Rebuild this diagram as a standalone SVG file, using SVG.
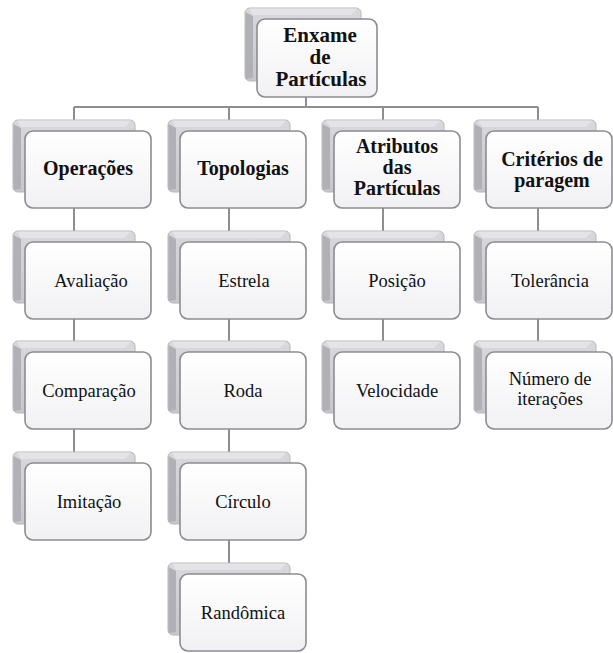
<svg xmlns="http://www.w3.org/2000/svg" xmlns:xlink="http://www.w3.org/1999/xlink" width="613" height="653" viewBox="0 0 613 653">
  <style>
    .lbl { fill: #111; text-anchor: middle; }
    .head { font-size: 20px; font-weight: bold; }
    .root { font-size: 21px; font-weight: bold; }
    .item { font-size: 18.5px; }
    .wire { fill: none; stroke: #8d8d93; stroke-width: 2; }
    .frontbox { fill: url(#gFront); stroke: #8c8c92; stroke-width: 1.6; }
    .backbox { fill: url(#gBack); stroke: #b6b6bc; stroke-width: 1; }
    .faceL { fill: #b0b0b7; }
    .faceT { fill: #e4e4e8; }
  </style>
  <defs>
    <linearGradient id="gFront" x1="0" y1="0" x2="0" y2="1">
      <stop offset="0" stop-color="#ffffff"/>
      <stop offset="1" stop-color="#f1f1f4"/>
    </linearGradient>
    <linearGradient id="gBack" x1="0" y1="0" x2="0" y2="1">
      <stop offset="0" stop-color="#d9d9dd"/>
      <stop offset="1" stop-color="#c6c6cb"/>
    </linearGradient>
    <!-- standard card: 126 x 77 front face, origin at its top-left -->
    <g id="card">
      <rect class="backbox" x="-12" y="-11" width="122" height="72" rx="5"/>
      <polygon class="faceT" points="-8,-10.5 106,-10.5 100,-4 -4,-4"/>
      <polygon class="faceL" points="-11.5,-7 -4,-3 -4,58 -11.5,59"/>
      <rect class="frontbox" x="0" y="0" width="126" height="77" rx="8"/>
    </g>
    <!-- root card: 120 x 78 front face -->
    <g id="cardRoot">
      <rect class="backbox" x="-12" y="-11" width="116" height="73" rx="5"/>
      <polygon class="faceT" points="-8,-10.5 100,-10.5 94,-4 -4,-4"/>
      <polygon class="faceL" points="-11.5,-7 -4,-3 -4,59 -11.5,60"/>
      <rect class="frontbox" x="0" y="0" width="120" height="78" rx="8"/>
    </g>
  </defs>

  <rect width="613" height="653" fill="#ffffff"/>

  <!-- connectors -->
  <g id="connectors">
    <path class="wire" d="M306,97 V107 M74,107 H538"/>
    <path class="wire" d="M74,107 V463"/>
    <path class="wire" d="M229,107 V574"/>
    <path class="wire" d="M383,107 V352"/>
    <path class="wire" d="M538,107 V352"/>
  </g>

  <g font-family="'Liberation Serif', 'Times New Roman', 'DejaVu Serif', serif">
  <!-- root -->
  <g id="n-enxame" transform="translate(257,19)">
    <use xlink:href="#cardRoot"/>
    <text class="lbl root" x="63" y="23">Enxame</text>
    <text class="lbl root" x="63" y="45">de</text>
    <text class="lbl root" x="64" y="67">Partículas</text>
  </g>

  <!-- column 1 -->
  <g id="n-operacoes" transform="translate(25,131)">
    <use xlink:href="#card"/>
    <text class="lbl head" x="63" y="44">Operações</text>
  </g>
  <g id="n-avaliacao" transform="translate(25,242)">
    <use xlink:href="#card"/>
    <text class="lbl item" x="66" y="45">Avaliação</text>
  </g>
  <g id="n-comparacao" transform="translate(25,352)">
    <use xlink:href="#card"/>
    <text class="lbl item" x="64" y="45">Comparação</text>
  </g>
  <g id="n-imitacao" transform="translate(25,463)">
    <use xlink:href="#card"/>
    <text class="lbl item" x="64" y="45">Imitação</text>
  </g>

  <!-- column 2 -->
  <g id="n-topologias" transform="translate(180,131)">
    <use xlink:href="#card"/>
    <text class="lbl head" x="63" y="44">Topologias</text>
  </g>
  <g id="n-estrela" transform="translate(180,242)">
    <use xlink:href="#card"/>
    <text class="lbl item" x="64" y="45">Estrela</text>
  </g>
  <g id="n-roda" transform="translate(180,352)">
    <use xlink:href="#card"/>
    <text class="lbl item" x="63" y="45">Roda</text>
  </g>
  <g id="n-circulo" transform="translate(180,463)">
    <use xlink:href="#card"/>
    <text class="lbl item" x="63" y="45">Círculo</text>
  </g>
  <g id="n-randomica" transform="translate(180,574)">
    <use xlink:href="#card"/>
    <text class="lbl item" x="63" y="45">Randômica</text>
  </g>

  <!-- column 3 -->
  <g id="n-atributos" transform="translate(334,131)">
    <use xlink:href="#card"/>
    <text class="lbl head" x="63" y="22">Atributos</text>
    <text class="lbl head" x="63" y="43">das</text>
    <text class="lbl head" x="63" y="64">Partículas</text>
  </g>
  <g id="n-posicao" transform="translate(334,242)">
    <use xlink:href="#card"/>
    <text class="lbl item" x="63" y="45">Posição</text>
  </g>
  <g id="n-velocidade" transform="translate(334,352)">
    <use xlink:href="#card"/>
    <text class="lbl item" x="63" y="45">Velocidade</text>
  </g>

  <!-- column 4 -->
  <g id="n-criterios" transform="translate(486,131)">
    <use xlink:href="#card"/>
    <text class="lbl head" x="66" y="35">Critérios de</text>
    <text class="lbl head" x="66" y="56">paragem</text>
  </g>
  <g id="n-tolerancia" transform="translate(486,242)">
    <use xlink:href="#card"/>
    <text class="lbl item" x="64" y="45">Tolerância</text>
  </g>
  <g id="n-iteracoes" transform="translate(486,352)">
    <use xlink:href="#card"/>
    <text class="lbl item" x="64" y="33">Número de</text>
    <text class="lbl item" x="64" y="53">iterações</text>
  </g>
  </g>
</svg>
